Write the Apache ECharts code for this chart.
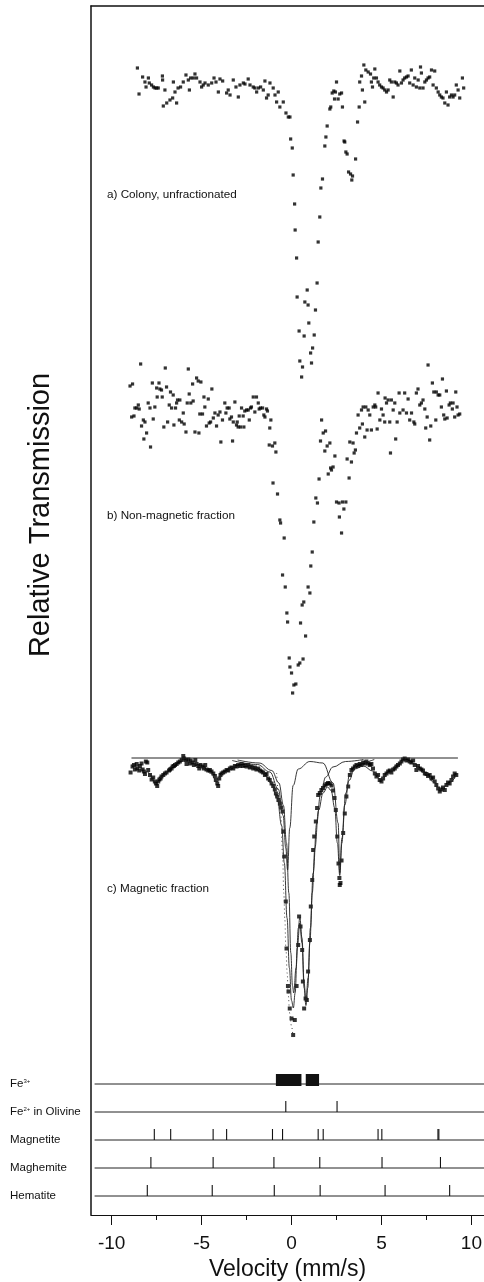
<!DOCTYPE html>
<html>
<head>
<meta charset="utf-8">
<title>Mossbauer spectra</title>
<script src="https://cdn.jsdelivr.net/npm/echarts@6.0.0/dist/echarts.min.js"></script>
<style>
  html, body { margin: 0; padding: 0; background: #fff; }
  #chart { width: 484px; height: 1282px; }
</style>
</head>
<body>
<div id="chart"></div>
<script>
// velocity axis
var velRange = [-11.15, 10.7];
var velTicks = [-10, -5, 0, 5, 10];
var velMinorTicks = [-7.5, -2.5, 2.5, 7.5];

// a) Colony, unfractionated  [velocity mm/s, transmission %]
var specA = [
[-8.57,100.17],[-8.48,99.91],[-8.28,100.08],[-8.15,100.03],[-8.09,99.98],[-7.96,100.07],[-7.91,100.02],[-7.78,100.0],[-7.68,99.98],[-7.59,99.97],[-7.5,99.97],[-7.41,99.97],[-7.18,100.09],[-7.17,100.05],[-7.13,99.79],[-7.04,99.95],[-6.94,99.82],[-6.76,99.85],[-6.61,99.87],[-6.57,100.03],[-6.48,99.93],[-6.39,99.82],[-6.31,99.97],[-6.17,99.98],[-6.02,100.03],[-5.87,100.1],[-5.74,100.05],[-5.68,99.95],[-5.61,100.07],[-5.46,100.07],[-5.37,100.11],[-5.28,100.07],[-5.09,100.03],[-5.0,99.98],[-4.91,100.0],[-4.81,100.02],[-4.63,100.0],[-4.44,100.02],[-4.31,100.07],[-4.2,100.03],[-4.07,99.93],[-3.98,100.06],[-3.83,100.04],[-3.61,99.92],[-3.52,99.95],[-3.42,99.9],[-3.24,100.05],[-3.09,99.98],[-2.96,99.88],[-2.87,100.0],[-2.68,100.02],[-2.59,100.01],[-2.41,100.06],[-2.31,100.0],[-2.13,99.98],[-2.04,99.97],[-1.94,99.93],[-1.85,99.97],[-1.72,99.98],[-1.57,99.95],[-1.48,100.04],[-1.39,99.87],[-1.3,99.9],[-1.2,100.02],[-1.02,99.97],[-0.92,99.9],[-0.83,99.83],[-0.74,99.93],[-0.65,99.78],[-0.46,99.83],[-0.31,99.72],[-0.18,99.68],[-0.09,99.68],[-0.05,99.46],[0.04,99.37],[0.09,99.1],[0.17,98.81],[0.2,98.55],[0.28,98.27],[0.31,97.88],[0.42,97.54],[0.46,97.24],[0.56,97.08],[0.61,97.18],[0.7,97.49],[0.74,97.83],[0.87,97.95],[0.92,97.8],[0.96,97.62],[1.06,97.32],[1.11,97.22],[1.17,97.37],[1.26,97.5],[1.33,97.75],[1.42,98.02],[1.48,98.43],[1.57,98.68],[1.63,98.97],[1.72,99.06],[1.85,99.39],[1.91,99.48],[1.98,99.59],[2.13,99.76],[2.18,99.78],[2.26,99.92],[2.35,99.94],[2.39,99.86],[2.44,99.93],[2.5,100.03],[2.59,99.86],[2.68,99.91],[2.78,99.92],[2.83,99.78],[2.92,99.44],[2.96,99.43],[3.02,99.33],[3.09,99.31],[3.17,99.13],[3.28,99.11],[3.35,99.05],[3.39,99.09],[3.56,99.26],[3.67,99.63],[3.76,99.78],[3.79,100.03],[3.89,100.09],[3.94,99.95],[4.02,100.2],[4.07,99.83],[4.13,100.15],[4.26,100.13],[4.39,100.11],[4.44,100.03],[4.5,99.98],[4.57,100.07],[4.63,100.16],[4.72,100.07],[4.81,100.03],[4.9,100.0],[5.0,99.98],[5.09,99.97],[5.18,99.95],[5.28,99.93],[5.37,99.95],[5.46,100.05],[5.55,100.03],[5.65,99.88],[5.74,100.03],[5.83,100.02],[5.92,100.0],[6.02,100.14],[6.11,100.02],[6.2,100.05],[6.29,100.07],[6.39,100.08],[6.48,100.09],[6.57,100.02],[6.66,100.15],[6.76,100.0],[6.85,100.07],[6.94,99.98],[7.04,100.05],[7.13,99.97],[7.17,100.18],[7.22,100.12],[7.31,99.97],[7.41,100.03],[7.5,100.05],[7.59,100.07],[7.68,100.08],[7.78,100.15],[7.87,100.0],[7.96,100.14],[8.05,99.97],[8.15,99.93],[8.24,99.9],[8.33,99.88],[8.42,99.87],[8.52,99.82],[8.61,99.93],[8.7,99.8],[8.79,99.88],[8.89,99.9],[8.98,99.88],[9.07,99.9],[9.16,100.0],[9.26,99.95],[9.35,99.87],[9.5,100.07],[9.57,99.97]
];

// b) Non-magnetic fraction
var specB = [
[-8.98,100.24],[-8.89,99.93],[-8.84,100.26],[-8.76,99.94],[-8.71,100.02],[-8.61,100.02],[-8.52,100.05],[-8.47,100.01],[-8.39,100.46],[-8.34,99.84],[-8.24,99.9],[-8.21,99.71],[-8.15,99.88],[-8.06,99.77],[-7.97,100.07],[-7.87,100.02],[-7.84,99.63],[-7.74,100.27],[-7.69,99.91],[-7.6,100.03],[-7.5,100.22],[-7.47,100.13],[-7.37,100.27],[-7.32,100.21],[-7.23,100.2],[-7.19,100.13],[-7.1,99.83],[-7.02,100.42],[-6.95,100.23],[-6.89,99.88],[-6.8,100.05],[-6.73,100.18],[-6.67,100.02],[-6.58,100.15],[-6.54,99.85],[-6.45,100.02],[-6.39,100.07],[-6.34,100.1],[-6.24,99.9],[-6.21,100.1],[-6.11,99.88],[-6.02,99.97],[-5.97,99.86],[-5.87,99.78],[-5.8,100.07],[-5.74,100.41],[-5.69,100.16],[-5.6,100.07],[-5.5,100.26],[-5.47,100.09],[-5.37,99.78],[-5.28,100.32],[-5.19,100.29],[-5.15,99.77],[-5.1,99.96],[-5.04,100.28],[-4.95,99.96],[-4.87,100.13],[-4.82,100.03],[-4.73,99.84],[-4.63,100.11],[-4.58,99.87],[-4.5,99.88],[-4.43,100.21],[-4.35,99.92],[-4.26,99.97],[-4.17,99.84],[-4.08,99.95],[-3.98,99.98],[-3.93,99.68],[-3.84,99.9],[-3.71,100.07],[-3.65,99.97],[-3.58,100.02],[-3.47,100.02],[-3.43,99.91],[-3.34,99.93],[-3.28,99.69],[-3.24,99.88],[-3.15,100.08],[-3.06,99.85],[-3.02,99.88],[-2.97,99.83],[-2.91,99.94],[-2.84,99.83],[-2.78,100.02],[-2.69,99.94],[-2.65,99.83],[-2.6,99.99],[-2.5,100.0],[-2.41,100.0],[-2.35,99.9],[-2.28,100.02],[-2.23,100.03],[-2.13,100.13],[-2.04,99.98],[-1.95,100.13],[-1.85,100.07],[-1.8,100.01],[-1.73,100.02],[-1.61,100.02],[-1.54,99.95],[-1.48,99.93],[-1.39,100.01],[-1.34,99.99],[-1.24,99.65],[-1.21,99.82],[-1.15,99.9],[-1.06,99.64],[-1.03,99.27],[-0.93,99.67],[-0.87,99.58],[-0.78,99.16],[-0.65,98.9],[-0.61,98.87],[-0.5,98.35],[-0.41,98.72],[-0.35,98.23],[-0.26,97.97],[-0.22,97.88],[-0.13,97.52],[-0.09,97.43],[0.0,97.37],[0.06,97.17],[0.13,97.25],[0.24,97.26],[0.37,97.45],[0.46,97.47],[0.5,97.87],[0.59,98.05],[0.64,97.51],[0.68,98.08],[0.78,97.74],[0.92,98.23],[1.02,98.17],[1.07,98.44],[1.15,98.58],[1.24,98.88],[1.35,99.12],[1.44,99.07],[1.53,99.31],[1.61,99.69],[1.67,99.9],[1.76,99.77],[1.85,99.59],[1.89,99.79],[1.98,99.64],[2.04,99.36],[2.13,99.67],[2.17,99.42],[2.22,99.4],[2.31,99.43],[2.41,99.54],[2.5,99.08],[2.64,99.07],[2.66,98.93],[2.78,98.77],[2.83,99.08],[2.91,99.01],[3.02,99.08],[3.09,99.51],[3.2,99.32],[3.24,99.68],[3.33,99.48],[3.42,99.67],[3.48,99.57],[3.55,99.6],[3.61,99.77],[3.7,99.95],[3.79,99.82],[3.89,100.0],[3.94,99.86],[3.98,100.03],[4.07,99.73],[4.13,100.03],[4.2,99.8],[4.26,100.0],[4.35,99.95],[4.44,99.8],[4.54,100.03],[4.63,100.05],[4.68,100.03],[4.76,99.81],[4.81,100.17],[4.91,99.9],[5.0,100.01],[5.09,99.95],[5.18,99.88],[5.2,100.12],[5.28,100.07],[5.37,100.1],[5.46,99.88],[5.5,99.57],[5.55,100.1],[5.65,100.0],[5.74,100.07],[5.79,99.71],[5.87,99.88],[5.98,100.17],[6.02,99.97],[6.2,100.0],[6.29,100.17],[6.39,99.97],[6.48,100.11],[6.57,99.9],[6.67,99.97],[6.8,99.88],[6.85,99.86],[6.94,100.17],[7.03,100.21],[7.13,100.05],[7.22,100.07],[7.31,100.1],[7.41,100.01],[7.46,99.82],[7.54,99.93],[7.59,100.45],[7.68,99.7],[7.74,99.84],[7.83,100.27],[7.91,100.18],[8.02,99.9],[8.05,100.18],[8.15,100.15],[8.24,100.15],[8.33,100.03],[8.39,100.31],[8.46,99.95],[8.52,99.91],[8.61,100.19],[8.65,99.92],[8.76,100.05],[8.83,100.07],[8.94,100.01],[8.98,100.07],[9.07,99.93],[9.13,100.18],[9.2,100.03],[9.26,99.95],[9.35,99.96]
];

// c) Magnetic fraction
var specC = [
[-8.95,99.71],[-8.84,99.83],[-8.76,99.86],[-8.71,99.77],[-8.61,99.88],[-8.58,99.79],[-8.47,99.75],[-8.43,99.84],[-8.34,99.89],[-8.28,99.77],[-8.21,99.73],[-8.15,99.68],[-8.1,99.93],[-8.02,99.91],[-7.97,99.76],[-7.87,99.66],[-7.78,99.57],[-7.69,99.61],[-7.6,99.53],[-7.54,99.49],[-7.47,99.44],[-7.41,99.53],[-7.35,99.57],[-7.28,99.59],[-7.23,99.63],[-7.13,99.66],[-7.04,99.69],[-6.95,99.71],[-6.81,99.75],[-6.76,99.77],[-6.67,99.79],[-6.61,99.83],[-6.54,99.84],[-6.48,99.86],[-6.39,99.88],[-6.3,99.91],[-6.21,99.93],[-6.11,99.96],[-6.02,100.04],[-5.97,99.99],[-5.87,99.96],[-5.84,99.88],[-5.74,99.97],[-5.65,99.89],[-5.61,99.95],[-5.5,99.91],[-5.43,99.86],[-5.35,99.96],[-5.28,99.88],[-5.19,99.84],[-5.13,99.79],[-5.06,99.86],[-4.95,99.83],[-4.87,99.79],[-4.8,99.86],[-4.73,99.77],[-4.63,99.75],[-4.54,99.76],[-4.45,99.73],[-4.35,99.69],[-4.26,99.64],[-4.21,99.56],[-4.13,99.49],[-4.08,99.44],[-4.02,99.59],[-3.95,99.66],[-3.89,99.69],[-3.8,99.71],[-3.71,99.73],[-3.61,99.76],[-3.52,99.75],[-3.43,99.79],[-3.34,99.81],[-3.24,99.79],[-3.15,99.84],[-3.06,99.83],[-2.97,99.86],[-2.87,99.84],[-2.78,99.88],[-2.69,99.84],[-2.6,99.86],[-2.5,99.83],[-2.41,99.86],[-2.32,99.81],[-2.23,99.83],[-2.13,99.79],[-2.04,99.81],[-1.95,99.77],[-1.85,99.79],[-1.76,99.75],[-1.67,99.73],[-1.58,99.71],[-1.48,99.66],[-1.39,99.68],[-1.3,99.59],[-1.21,99.56],[-1.11,99.49],[-1.02,99.44],[-0.93,99.37],[-0.87,99.29],[-0.8,99.23],[-0.73,99.16],[-0.65,99.09],[-0.58,99.01],[-0.5,98.93],[-0.46,98.53],[-0.41,98.03],[-0.32,97.13],[-0.28,96.19],[-0.2,95.44],[-0.17,95.33],[-0.1,94.99],[0.0,94.79],[0.09,94.46],[0.18,94.76],[0.28,95.44],[0.37,96.26],[0.42,96.83],[0.5,96.63],[0.59,96.16],[0.63,95.53],[0.7,94.99],[0.78,95.19],[0.85,95.16],[0.92,95.73],[1.02,96.36],[1.07,97.03],[1.15,97.56],[1.2,98.16],[1.26,98.43],[1.35,98.73],[1.42,99.0],[1.48,99.26],[1.57,99.3],[1.66,99.36],[1.75,99.4],[1.85,99.45],[1.94,99.48],[2.03,99.5],[2.13,99.49],[2.22,99.45],[2.31,99.35],[2.39,99.2],[2.46,98.96],[2.54,98.43],[2.61,97.89],[2.66,97.6],[2.68,97.46],[2.72,97.5],[2.78,97.95],[2.87,98.5],[2.96,98.89],[3.05,99.23],[3.15,99.43],[3.24,99.66],[3.33,99.76],[3.42,99.79],[3.52,99.83],[3.61,99.86],[3.7,99.84],[3.79,99.88],[3.89,99.86],[3.98,99.91],[4.07,99.89],[4.16,99.93],[4.26,99.89],[4.35,99.86],[4.44,99.88],[4.53,99.79],[4.63,99.69],[4.72,99.63],[4.81,99.66],[4.9,99.56],[5.0,99.53],[5.09,99.59],[5.18,99.66],[5.28,99.69],[5.37,99.73],[5.46,99.75],[5.55,99.71],[5.65,99.77],[5.74,99.79],[5.83,99.83],[5.92,99.86],[6.02,99.89],[6.11,99.93],[6.2,99.97],[6.29,99.99],[6.39,99.95],[6.48,99.97],[6.57,99.93],[6.66,99.91],[6.76,99.95],[6.85,99.86],[6.94,99.76],[7.03,99.84],[7.13,99.79],[7.22,99.77],[7.31,99.75],[7.41,99.69],[7.5,99.68],[7.59,99.64],[7.68,99.66],[7.78,99.59],[7.87,99.61],[7.96,99.53],[8.05,99.46],[8.15,99.39],[8.24,99.33],[8.33,99.37],[8.42,99.41],[8.52,99.36],[8.61,99.46],[8.7,99.51],[8.79,99.49],[8.89,99.56],[8.98,99.63],[9.07,99.69],[9.16,99.66]
];

// fitted curves of c)
var fitBase = [[-8.9,100],[9.25,100]];
var fitTotal = [[-8.9,99.86],[-8.5,99.82],[-8.0,99.72],[-7.6,99.52],[-7.2,99.62],[-6.7,99.82],[-6.2,99.95],[-5.6,99.92],[-5.0,99.82],[-4.5,99.7],[-4.15,99.52],[-3.8,99.7],[-3.2,99.82],[-2.6,99.85],[-2.0,99.8],[-1.5,99.68],[-1.1,99.48],[-0.8,99.2],[-0.55,98.65],[-0.4,97.9],[-0.25,96.8],[-0.12,95.8],[0.0,95.15],[0.1,95.0],[0.2,95.3],[0.32,96.2],[0.46,96.7],[0.58,96.3],[0.7,95.4],[0.8,95.05],[0.9,95.4],[1.02,96.3],[1.15,97.3],[1.3,98.2],[1.5,98.95],[1.75,99.3],[2.0,99.42],[2.2,99.35],[2.4,99.0],[2.55,98.3],[2.68,97.65],[2.8,98.3],[2.95,99.05],[3.2,99.55],[3.5,99.78],[4.0,99.84],[4.5,99.74],[5.0,99.56],[5.4,99.7],[5.9,99.88],[6.3,99.96],[6.8,99.88],[7.4,99.7],[7.9,99.52],[8.3,99.36],[8.7,99.48],[9.2,99.68]];
var fitFe2 = [[-3.3,99.95],[-1.9,99.87],[-1.2,99.72],[-0.74,99.38],[-0.47,98.85],[-0.32,98.2],[-0.22,97.76],[-0.1,98.6],[0.09,99.45],[0.37,99.78],[1.02,99.93],[1.74,99.9],[2.31,99.5],[2.59,98.7],[2.68,97.7],[2.8,98.4],[3.02,99.3],[3.24,99.7],[3.79,99.9],[4.6,99.97]];
var fitFe3 = [[-3.0,99.96],[-1.8,99.9],[-1.1,99.75],[-0.7,99.5],[-0.45,99.05],[-0.28,98.3],[-0.15,97.3],[-0.04,96.1],[0.05,95.45],[0.12,95.3],[0.25,95.8],[0.38,96.6],[0.46,96.82],[0.58,96.4],[0.7,95.5],[0.8,95.12],[0.92,95.6],[1.05,96.6],[1.2,97.7],[1.4,98.7],[1.6,99.25],[1.9,99.62],[2.3,99.82],[3.0,99.93],[4.0,99.97]];
var fitDotted = [[-0.83,99.7],[-0.61,98.96],[-0.5,98.09],[-0.43,97.29],[-0.37,96.76],[-0.32,96.23],[-0.24,95.69],[-0.19,95.29],[-0.1,94.89],[0.0,94.63],[0.09,94.39]];

// stick diagram below the spectra
var rowNames = ['Fe{sup|3+}', 'Fe{sup|2+} in Olivine', 'Magnetite', 'Maghemite', 'Hematite'];
var rowLineSpan = [-10.95, 10.7];
var fe3Bars = [[-0.87, 0.55], [0.79, 1.53]];
var olivineLines = [-0.32, 2.53];
var magnetiteLines = [-7.63, -6.72, -4.36, -3.61, -1.06, -0.5, 1.48, 1.76, 4.81, 5.02, 8.14, 8.19];
var maghemiteLines = [-7.82, -4.36, -0.98, 1.57, 5.03, 8.28];
var hematiteLines = [-8.02, -4.41, -0.96, 1.59, 5.2, 8.79];

var INK = '#111';
var FONT = '"Liberation Sans", Arial, sans-serif';

var sticks = [];
[[], olivineLines, magnetiteLines, maghemiteLines, hematiteLines].forEach(function (arr, row) {
  arr.forEach(function (v) { sticks.push([v, row]); });
});
var bars = fe3Bars.map(function (b) { return [b[0], b[1], 0]; });
var rowLines = rowNames.map(function (n, i) { return [rowLineSpan[0], rowLineSpan[1], i]; });

function hiddenX(grid) {
  return { gridIndex: grid, type: 'value', min: velRange[0], max: velRange[1], show: false };
}
function hiddenY(grid, min, max) {
  return { gridIndex: grid, type: 'value', min: min, max: max, show: false };
}

var chart = echarts.init(document.getElementById('chart'), null, { renderer: 'canvas' });

var option = {
  animation: false,
  backgroundColor: '#fff',
  textStyle: { fontFamily: FONT, color: INK },
  grid: [
    { left: 91, right: 0, top: 6, bottom: 67, outerBoundsMode: 'none', containLabel: false },
    { left: 91, right: 0, top: 35, height: 400, outerBoundsMode: 'none' },
    { left: 91, right: 0, top: 360, height: 400, outerBoundsMode: 'none' },
    { left: 91, right: 0, top: 733, height: 325, outerBoundsMode: 'none' },
    { left: 91, right: 0, top: 1070, height: 140, outerBoundsMode: 'none' }
  ],
  xAxis: [
    {
      gridIndex: 0, type: 'value', position: 'bottom', min: velRange[0], max: velRange[1],
      axisLine: { onZero: false, lineStyle: { color: INK, width: 1 } },
      axisTick: { customValues: velTicks, length: 10, lineStyle: { color: INK } },
      axisLabel: { customValues: velTicks, fontSize: 19, color: INK, margin: 19, fontFamily: FONT },
      splitLine: { show: false },
      name: 'Velocity (mm/s)', nameLocation: 'middle', nameGap: 41,
      nameTextStyle: { fontSize: 23, color: INK, fontFamily: FONT }
    },
    {
      gridIndex: 0, type: 'value', position: 'bottom', min: velRange[0], max: velRange[1],
      axisLine: { show: false, onZero: false },
      axisTick: { customValues: velMinorTicks, length: 5, lineStyle: { color: INK } },
      axisLabel: { show: false }, splitLine: { show: false }
    },
    {
      gridIndex: 0, type: 'value', position: 'top', min: velRange[0], max: velRange[1],
      axisLine: { onZero: false, lineStyle: { color: INK, width: 1.5 } },
      axisTick: { show: false }, axisLabel: { show: false }, splitLine: { show: false }
    },
    hiddenX(1), hiddenX(2), hiddenX(3), hiddenX(4)
  ],
  yAxis: [
    {
      gridIndex: 0, type: 'value', min: 0, max: 1,
      axisLine: { show: true, onZero: false, lineStyle: { color: INK, width: 1.5 } },
      axisTick: { show: false }, axisLabel: { show: false }, splitLine: { show: false }
    },
    hiddenY(1, 96.5, 100.5),
    hiddenY(2, 96.5, 100.5),
    hiddenY(3, 94, 100.5),
    {
      gridIndex: 4, type: 'category', data: rowNames, inverse: true,
      axisLine: { show: false }, axisTick: { show: false }, splitLine: { show: false },
      axisLabel: {
        align: 'left', margin: 81, fontSize: 11.5, color: INK, fontFamily: FONT,
        rich: { sup: { fontSize: 6, padding: [0, 0, 6, 0], color: INK, fontFamily: FONT } }
      }
    }
  ],
  graphic: [
    { type: 'text', x: 41, y: 515, rotation: Math.PI / 2,
      style: { text: 'Relative Transmission', fontSize: 29, fontFamily: FONT, fill: INK, align: 'center', verticalAlign: 'middle' } },
    { type: 'text', x: 107, y: 195,
      style: { text: 'a) Colony, unfractionated', fontSize: 11.7, fontFamily: FONT, fill: INK, verticalAlign: 'middle' } },
    { type: 'text', x: 107, y: 516,
      style: { text: 'b) Non-magnetic fraction', fontSize: 11.7, fontFamily: FONT, fill: INK, verticalAlign: 'middle' } },
    { type: 'text', x: 107, y: 889,
      style: { text: 'c) Magnetic fraction', fontSize: 11.7, fontFamily: FONT, fill: INK, verticalAlign: 'middle' } }
  ],
  series: [
    { type: 'scatter', xAxisIndex: 3, yAxisIndex: 1, data: specA, symbol: 'rect', symbolSize: 3.2, itemStyle: { color: '#000' } },
    { type: 'scatter', xAxisIndex: 4, yAxisIndex: 2, data: specB, symbol: 'rect', symbolSize: 3.2, itemStyle: { color: '#000' } },
    { type: 'line', xAxisIndex: 5, yAxisIndex: 3, data: fitBase, showSymbol: false, lineStyle: { color: '#222', width: 1 } },
    { type: 'line', xAxisIndex: 5, yAxisIndex: 3, data: fitFe2, showSymbol: false, smooth: 0.4, smoothMonotone: 'x', lineStyle: { color: '#222', width: 0.9 } },
    { type: 'line', xAxisIndex: 5, yAxisIndex: 3, data: fitFe3, showSymbol: false, smooth: 0.4, smoothMonotone: 'x', lineStyle: { color: '#222', width: 0.9 } },
    { type: 'line', xAxisIndex: 5, yAxisIndex: 3, data: fitDotted, showSymbol: false, smooth: 0.4, smoothMonotone: 'x', lineStyle: { color: '#444', width: 1, type: [1, 3] } },
    { type: 'scatter', xAxisIndex: 5, yAxisIndex: 3, data: specC, symbol: 'rect', symbolSize: 4, itemStyle: { color: '#000' } },
    { type: 'line', xAxisIndex: 5, yAxisIndex: 3, data: fitTotal, showSymbol: false, smooth: 0.4, smoothMonotone: 'x', lineStyle: { color: '#222', width: 0.9 }, z: 3 },
    {
      type: 'custom', xAxisIndex: 6, yAxisIndex: 4, data: rowLines, encode: { x: [0, 1], y: 2 },
      renderItem: function (params, api) {
        var a = api.coord([api.value(0), api.value(2)]);
        var b = api.coord([api.value(1), api.value(2)]);
        return { type: 'line', shape: { x1: a[0], y1: a[1], x2: b[0], y2: b[1] }, style: { stroke: '#222', lineWidth: 1 } };
      }
    },
    {
      type: 'custom', xAxisIndex: 6, yAxisIndex: 4, data: sticks, encode: { x: 0, y: 1 },
      renderItem: function (params, api) {
        var p = api.coord([api.value(0), api.value(1)]);
        return { type: 'line', shape: { x1: p[0], y1: p[1], x2: p[0], y2: p[1] - 11 }, style: { stroke: '#111', lineWidth: 1.1 } };
      }
    },
    {
      type: 'custom', xAxisIndex: 6, yAxisIndex: 4, data: bars, encode: { x: [0, 1], y: 2 },
      renderItem: function (params, api) {
        var a = api.coord([api.value(0), api.value(2)]);
        var b = api.coord([api.value(1), api.value(2)]);
        return { type: 'rect', shape: { x: a[0], y: a[1] - 10, width: b[0] - a[0], height: 12 }, style: { fill: '#111' } };
      }
    }
  ]
};

chart.setOption(option);
</script>
</body>
</html>
